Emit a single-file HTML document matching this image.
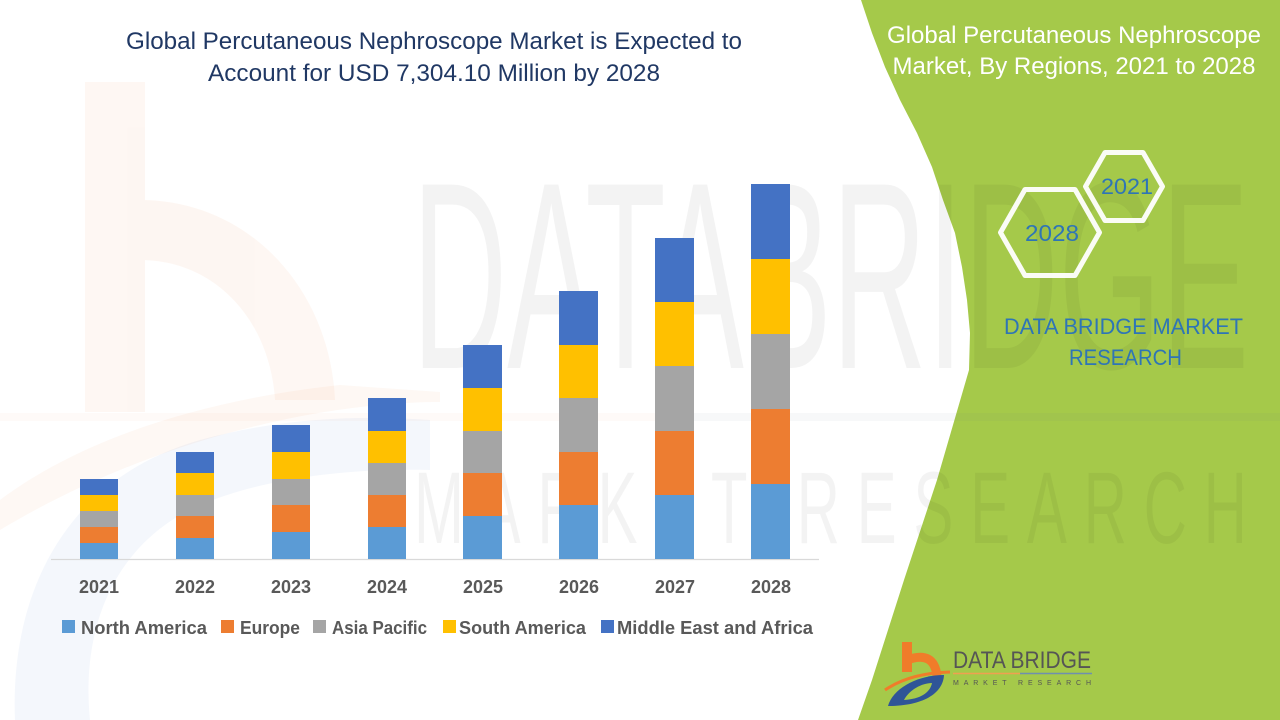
<!DOCTYPE html>
<html>
<head>
<meta charset="utf-8">
<style>
  html, body { margin: 0; padding: 0; background: #ffffff; }
  body { width: 1280px; height: 720px; overflow: hidden; }
  svg { display: block; }
  text { font-family: "Liberation Sans", Arial, sans-serif; }
</style>
</head>
<body>
<svg width="1280" height="720" viewBox="0 0 1280 720" xmlns="http://www.w3.org/2000/svg">
  <rect x="0" y="0" width="1280" height="720" fill="#ffffff"/>

  <!-- green side panel -->
  <path d="M858,0 L861,0 L872,33 L885,67 L900,100 L917,133 L932,167 L943,200 L955,233 L962,267 L967,300 L970,333 L969,370 L937,480 L904,580 L872,680 L858,720 L1280,720 L1280,0 Z" fill="#a5c94a"/>

  <!-- faint watermark: orange b on left -->
  <g opacity="0.06">
    <rect x="85" y="82" width="60" height="330" fill="#ed7d31"/>
    <path d="M140,200 C250,200 330,290 335,400 L275,400 C270,320 215,260 140,260 Z" fill="#ed7d31"/>
  </g>
  <path d="M0,500 C80,440 200,400 340,385 L440,392 L440,402 C320,402 150,440 0,530 Z" fill="#ed7d31" opacity="0.05"/>
  <path d="M15,720 C10,600 60,480 200,440 C280,418 360,415 430,420 L430,470 C340,468 260,480 200,505 C120,540 80,620 90,720 Z" fill="#4472c4" opacity="0.06"/>
  <!-- faint horizontal band -->
  <rect x="0" y="413" width="686" height="8" fill="#ed7d31" opacity="0.035"/>
  <rect x="686" y="413" width="594" height="8" fill="#5b6f90" opacity="0.05"/>

  <!-- faint watermark text -->
  <text transform="translate(412,368) scale(1,2.05)" x="0" y="0" font-size="130" fill="#000" opacity="0.045" textLength="837" lengthAdjust="spacingAndGlyphs">DATABRIDGE</text>
  <text transform="translate(414,543) scale(1,1.7)" x="0" y="0" font-size="60" fill="#000" opacity="0.045" textLength="833" lengthAdjust="spacing">MARKET RESEARCH</text>

  <!-- main title -->
  <text x="434" y="49" font-size="24" fill="#203864" text-anchor="middle" textLength="616" lengthAdjust="spacingAndGlyphs">Global Percutaneous Nephroscope Market is Expected to</text>
  <text x="434" y="81" font-size="24" fill="#203864" text-anchor="middle" textLength="452" lengthAdjust="spacingAndGlyphs">Account for USD 7,304.10 Million by 2028</text>

  <!-- axis -->
  <line x1="51" y1="559.5" x2="819" y2="559.5" stroke="#d9d9d9" stroke-width="1.2"/>

  <!-- bars -->
  <g>
    <!-- 2021 -->
    <rect x="80" y="543" width="38" height="16" fill="#5b9bd5"/>
    <rect x="80" y="527" width="38" height="16" fill="#ed7d31"/>
    <rect x="80" y="511" width="38" height="16" fill="#a5a5a5"/>
    <rect x="80" y="495" width="38" height="16" fill="#ffc000"/>
    <rect x="80" y="479" width="38" height="16" fill="#4472c4"/>
    <!-- 2022 -->
    <rect x="176" y="538" width="38" height="21" fill="#5b9bd5"/>
    <rect x="176" y="516" width="38" height="22" fill="#ed7d31"/>
    <rect x="176" y="495" width="38" height="21" fill="#a5a5a5"/>
    <rect x="176" y="473" width="38" height="22" fill="#ffc000"/>
    <rect x="176" y="452" width="38" height="21" fill="#4472c4"/>
    <!-- 2023 -->
    <rect x="272" y="532" width="38" height="27" fill="#5b9bd5"/>
    <rect x="272" y="505" width="38" height="27" fill="#ed7d31"/>
    <rect x="272" y="479" width="38" height="26" fill="#a5a5a5"/>
    <rect x="272" y="452" width="38" height="27" fill="#ffc000"/>
    <rect x="272" y="425" width="38" height="27" fill="#4472c4"/>
    <!-- 2024 -->
    <rect x="368" y="527" width="38" height="32" fill="#5b9bd5"/>
    <rect x="368" y="495" width="38" height="32" fill="#ed7d31"/>
    <rect x="368" y="463" width="38" height="32" fill="#a5a5a5"/>
    <rect x="368" y="431" width="38" height="32" fill="#ffc000"/>
    <rect x="368" y="398" width="38" height="33" fill="#4472c4"/>
    <!-- 2025 -->
    <rect x="463" y="516" width="39" height="43" fill="#5b9bd5"/>
    <rect x="463" y="473" width="39" height="43" fill="#ed7d31"/>
    <rect x="463" y="431" width="39" height="42" fill="#a5a5a5"/>
    <rect x="463" y="388" width="39" height="43" fill="#ffc000"/>
    <rect x="463" y="345" width="39" height="43" fill="#4472c4"/>
    <!-- 2026 -->
    <rect x="559" y="505" width="39" height="54" fill="#5b9bd5"/>
    <rect x="559" y="452" width="39" height="53" fill="#ed7d31"/>
    <rect x="559" y="398" width="39" height="54" fill="#a5a5a5"/>
    <rect x="559" y="345" width="39" height="53" fill="#ffc000"/>
    <rect x="559" y="291" width="39" height="54" fill="#4472c4"/>
    <!-- 2027 -->
    <rect x="655" y="495" width="39" height="64" fill="#5b9bd5"/>
    <rect x="655" y="431" width="39" height="64" fill="#ed7d31"/>
    <rect x="655" y="366" width="39" height="65" fill="#a5a5a5"/>
    <rect x="655" y="302" width="39" height="64" fill="#ffc000"/>
    <rect x="655" y="238" width="39" height="64" fill="#4472c4"/>
    <!-- 2028 -->
    <rect x="751" y="484" width="39" height="75" fill="#5b9bd5"/>
    <rect x="751" y="409" width="39" height="75" fill="#ed7d31"/>
    <rect x="751" y="334" width="39" height="75" fill="#a5a5a5"/>
    <rect x="751" y="259" width="39" height="75" fill="#ffc000"/>
    <rect x="751" y="184" width="39" height="75" fill="#4472c4"/>
  </g>

  <!-- year labels -->
  <g font-size="18" font-weight="bold" fill="#595959" text-anchor="middle">
    <text x="99" y="593" textLength="40" lengthAdjust="spacingAndGlyphs">2021</text>
    <text x="195" y="593" textLength="40" lengthAdjust="spacingAndGlyphs">2022</text>
    <text x="291" y="593" textLength="40" lengthAdjust="spacingAndGlyphs">2023</text>
    <text x="387" y="593" textLength="40" lengthAdjust="spacingAndGlyphs">2024</text>
    <text x="483" y="593" textLength="40" lengthAdjust="spacingAndGlyphs">2025</text>
    <text x="579" y="593" textLength="40" lengthAdjust="spacingAndGlyphs">2026</text>
    <text x="675" y="593" textLength="40" lengthAdjust="spacingAndGlyphs">2027</text>
    <text x="771" y="593" textLength="40" lengthAdjust="spacingAndGlyphs">2028</text>
  </g>

  <!-- legend -->
  <g font-size="18" font-weight="bold" fill="#595959">
    <rect x="62" y="620" width="13" height="13" fill="#5b9bd5"/>
    <text x="81" y="634" textLength="126" lengthAdjust="spacingAndGlyphs">North America</text>
    <rect x="221" y="620" width="13" height="13" fill="#ed7d31"/>
    <text x="240" y="634" textLength="60" lengthAdjust="spacingAndGlyphs">Europe</text>
    <rect x="313" y="620" width="13" height="13" fill="#a5a5a5"/>
    <text x="332" y="634" textLength="95" lengthAdjust="spacingAndGlyphs">Asia Pacific</text>
    <rect x="443" y="620" width="13" height="13" fill="#ffc000"/>
    <text x="459" y="634" textLength="127" lengthAdjust="spacingAndGlyphs">South America</text>
    <rect x="601" y="620" width="13" height="13" fill="#4472c4"/>
    <text x="617" y="634" textLength="196" lengthAdjust="spacingAndGlyphs">Middle East and Africa</text>
  </g>

  <!-- right panel title -->
  <text x="1074" y="43" font-size="24" fill="#ffffff" text-anchor="middle" textLength="374" lengthAdjust="spacingAndGlyphs">Global Percutaneous Nephroscope</text>
  <text x="1074" y="74" font-size="24" fill="#ffffff" text-anchor="middle" textLength="363" lengthAdjust="spacingAndGlyphs">Market, By Regions, 2021 to 2028</text>

  <!-- hexagons -->
  <g fill="none" stroke="#ffffff" stroke-width="5" stroke-linejoin="round" opacity="0.95">
    <path d="M1085.5,186.5 L1105,152.5 L1143,152.5 L1162.5,186.5 L1143,220.5 L1105,220.5 Z"/>
    <path d="M1000.5,232.5 L1025,189.5 L1075,189.5 L1099.5,232.5 L1075,275.5 L1025,275.5 Z"/>
  </g>
  <text x="1127" y="194" font-size="22" fill="#2e75b6" text-anchor="middle" textLength="52" lengthAdjust="spacingAndGlyphs">2021</text>
  <text x="1052" y="241" font-size="23" fill="#2e75b6" text-anchor="middle" textLength="54" lengthAdjust="spacingAndGlyphs">2028</text>

  <!-- DATA BRIDGE MARKET RESEARCH -->
  <text x="1123.5" y="334" font-size="22.5" fill="#2e75b6" text-anchor="middle" textLength="239" lengthAdjust="spacingAndGlyphs">DATA BRIDGE MARKET</text>
  <text x="1125.5" y="365" font-size="22.5" fill="#2e75b6" text-anchor="middle" textLength="113" lengthAdjust="spacingAndGlyphs">RESEARCH</text>

  <!-- bottom logo -->
  <g>
    <rect x="902" y="642" width="10" height="30" fill="#f07c2a"/>
    <path d="M907,660 Q934,650 937,676" fill="none" stroke="#f07c2a" stroke-width="9"/>
    <path d="M888,706 C893,688 918,675 944,675 C943,694 922,706 888,706 Z" fill="#2f5597"/>
    <path d="M904,700 C909,690 922,683 932,683 C930,693 920,699 904,700 Z" fill="#a5c94a"/>
    <path d="M885,690 Q910,673 950,672" fill="none" stroke="#f07c2a" stroke-width="3"/>
    <text x="953" y="668" font-size="24" fill="#555555" textLength="138" lengthAdjust="spacingAndGlyphs">DATA BRIDGE</text>
    <line x1="953" y1="673.5" x2="1020" y2="673.5" stroke="#f0a050" stroke-width="1.5"/>
    <line x1="1020" y1="673.5" x2="1092" y2="673.5" stroke="#6f8fb0" stroke-width="1.5"/>
    <text x="953" y="685" font-size="7" fill="#555555" textLength="138" lengthAdjust="spacing">MARKET RESEARCH</text>
  </g>
</svg>
</body>
</html>
